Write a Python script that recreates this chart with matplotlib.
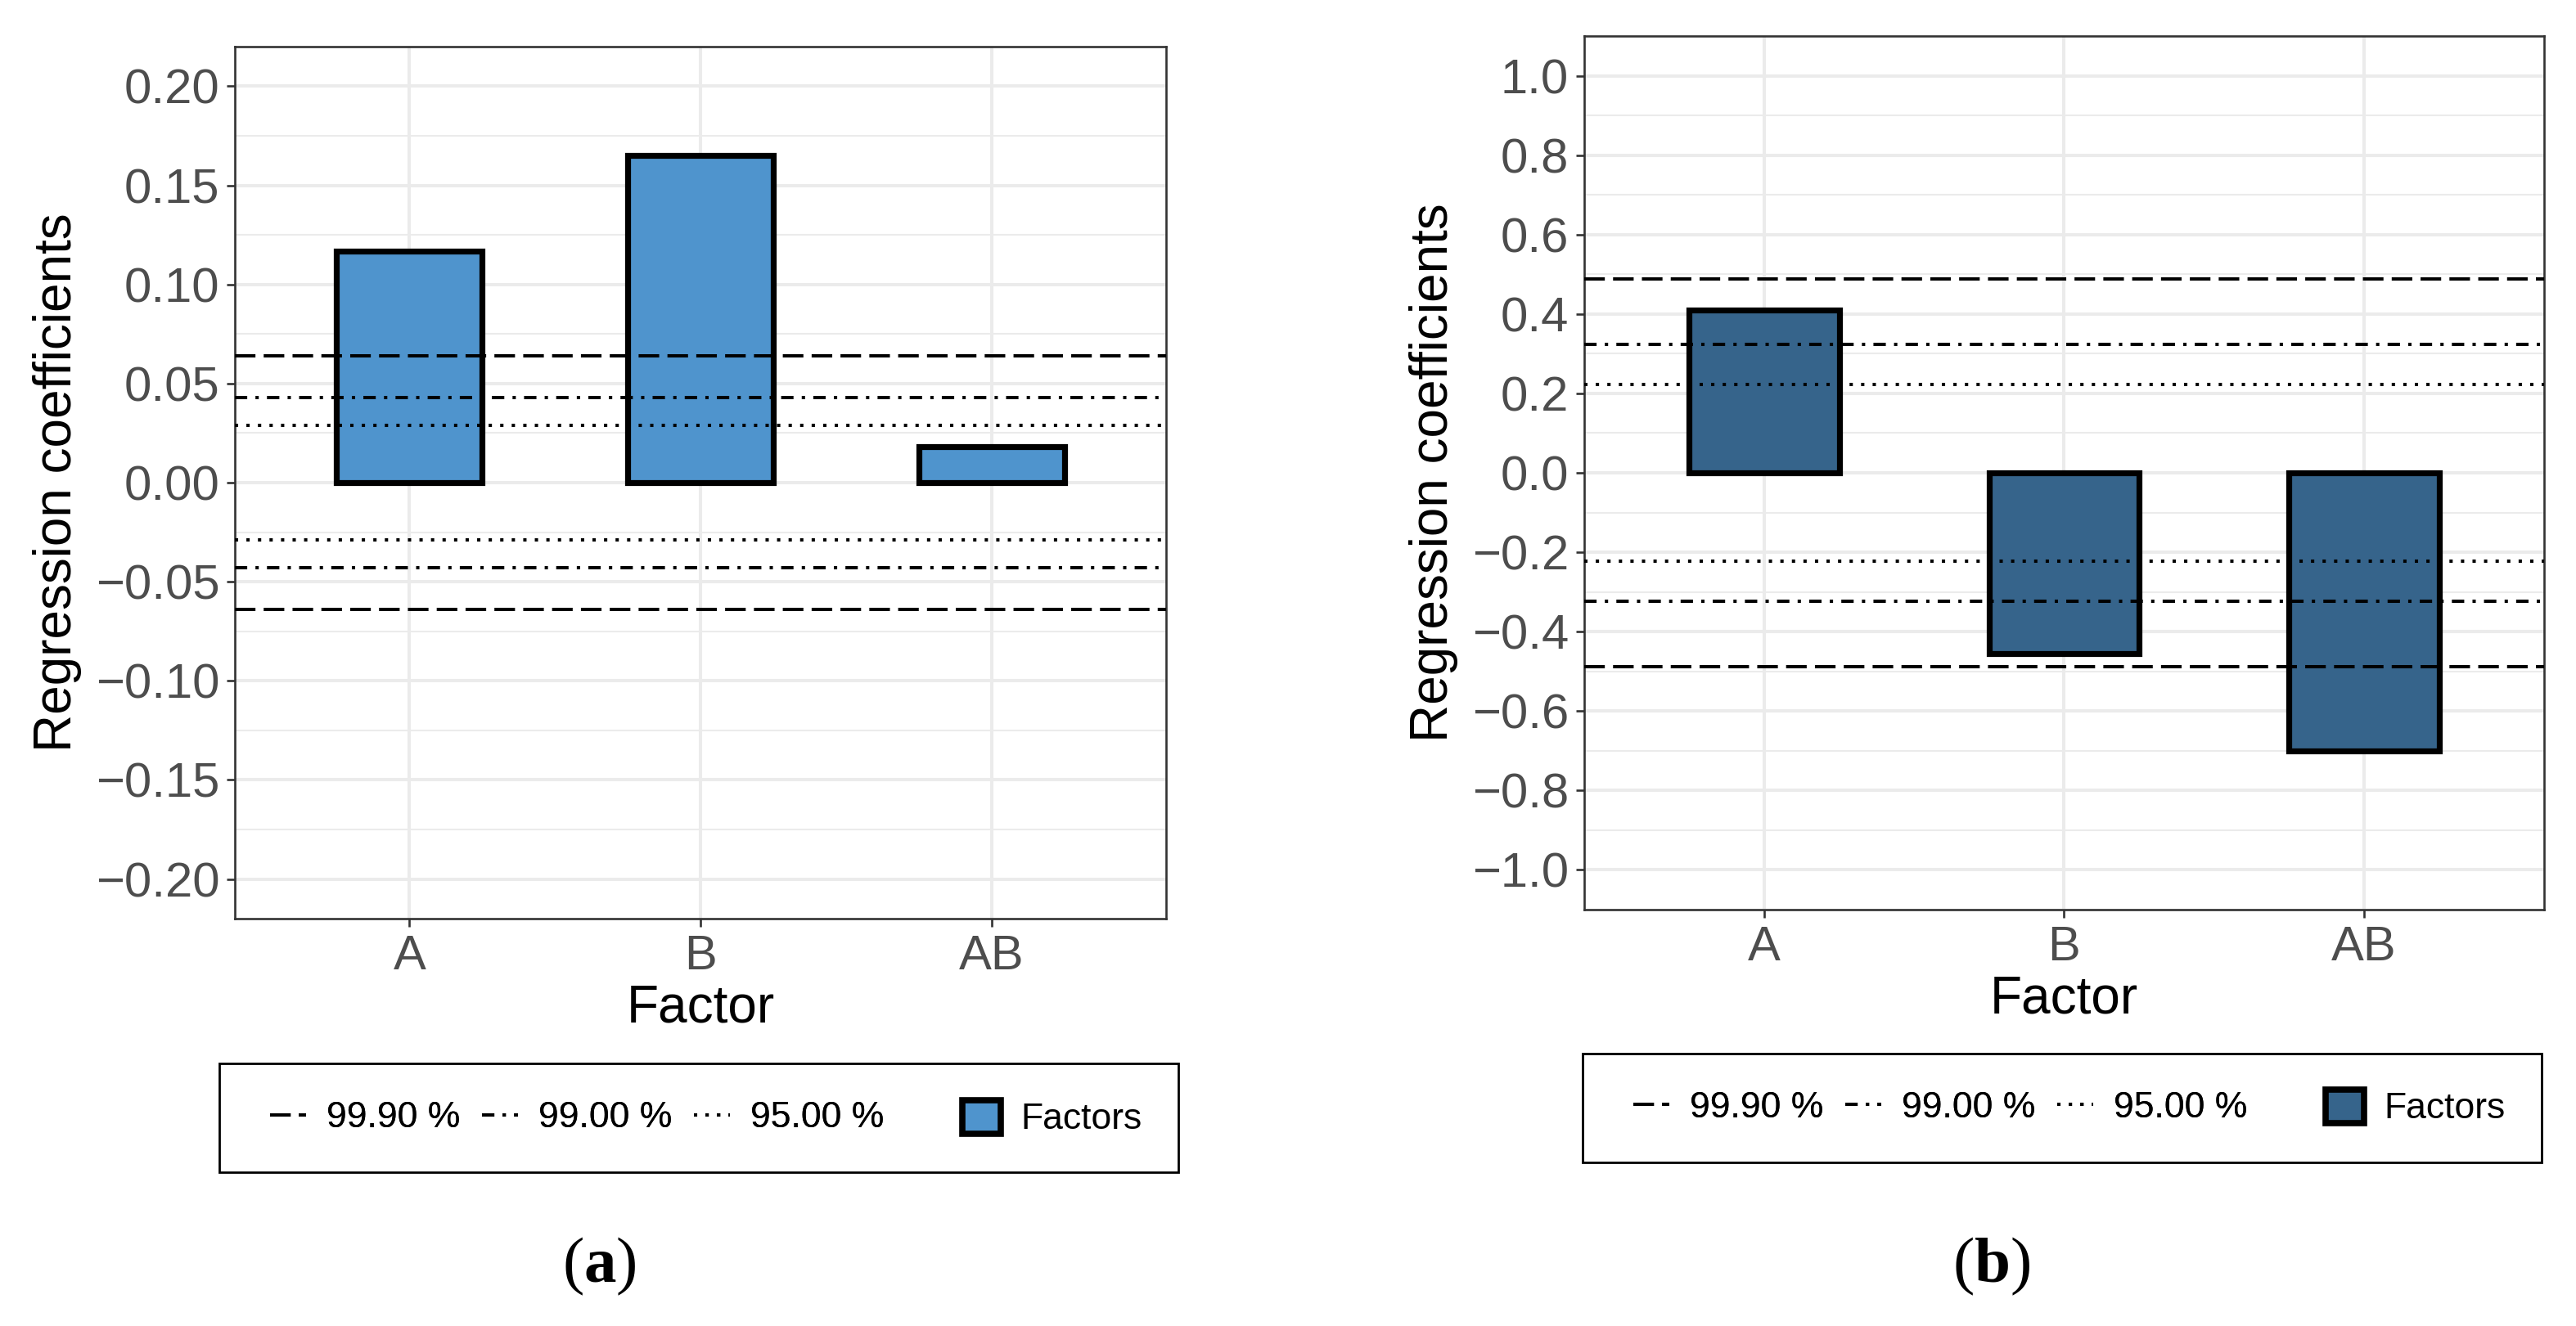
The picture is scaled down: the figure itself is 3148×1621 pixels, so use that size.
import numpy as np
import matplotlib
matplotlib.use("Agg")
import matplotlib.pyplot as plt
from matplotlib.lines import Line2D
from matplotlib.patches import Patch, Rectangle

# ---------------- data ----------------
factors = ["A", "B", "AB"]
coef_a = [0.117, 0.165, 0.018]
coef_b = [0.41, -0.455, -0.70]

levels = ["99.90 %", "99.00 %", "95.00 %"]
limits_a = [0.064, 0.043, 0.029]
limits_b = [0.488, 0.324, 0.223]

ticks_a = [-0.20, -0.15, -0.10, -0.05, 0.00, 0.05, 0.10, 0.15, 0.20]
ticks_b = [-1.0, -0.8, -0.6, -0.4, -0.2, 0.0, 0.2, 0.4, 0.6, 0.8, 1.0]

# ---------------- style ----------------
plt.rcParams['font.family'] = ['Liberation Sans', 'DejaVu Sans']
plt.rcParams['mathtext.fontset'] = 'custom'
plt.rcParams['mathtext.rm'] = 'Liberation Serif'
plt.rcParams['mathtext.bf'] = 'Liberation Serif:bold'

W, H = 3148, 1621
DPI = 100
LINE_LW = 2.9
styles = [(0, (6.25, 2.5)), (0, (3.75, 2.5, 1.0, 2.5)), (0, (1.0, 2.5))]
GRID = "#EBEBEB"
FRAME = "#333333"
TICKTXT = "#4D4D4D"


def px(x, y):
    """full-image pixel -> figure fraction"""
    return x / W, 1 - y / H


def draw_panel(ax, values, limits, ticks, ylim, minor_step, color, fmt):
    x = np.arange(1, len(factors) + 1)
    ax.bar(x, values, width=0.5, color=color, edgecolor="black",
           linewidth=5.2, zorder=3)
    for lim, ls in zip(limits, styles):
        for s in (1, -1):
            ax.axhline(s * lim, color="black", lw=LINE_LW, linestyle=ls,
                       zorder=4)
    ax.set_xticks(x)
    ax.set_xticklabels(factors)
    ax.set_yticks(ticks)
    ax.set_yticklabels([fmt.format(t).replace("-", "\u2212") for t in ticks])
    ax.set_yticks(np.arange(ticks[0] - minor_step, ticks[-1] + 1.5 * minor_step,
                            2 * minor_step), minor=True)
    ax.set_xlim(0.4, len(factors) + 0.6)
    ax.set_ylim(*ylim)
    ax.grid(True, which="major", color=GRID, lw=2.9, zorder=0)
    ax.grid(True, which="minor", axis="y", color=GRID, lw=1.5, zorder=0)
    ax.set_axisbelow(True)
    for sp in ax.spines.values():
        sp.set_color(FRAME)
        sp.set_linewidth(1.9)
    ax.tick_params(which="major", length=7, width=1.9, color=FRAME,
                   labelsize=43, labelcolor=TICKTXT, pad=6.5)
    ax.tick_params(which="minor", length=0)
    ax.set_ylabel("Regression coefficients", fontsize=46, labelpad=12)
    ax.set_xlabel("Factor", fontsize=46, labelpad=4)


def draw_legend(fig, frame, line_x, fill_x, yc, color):
    x0, y0 = px(frame[0], frame[3])
    x1, y1 = px(frame[2], frame[1])
    fig.patches.append(Rectangle((x0, y0), x1 - x0, y1 - y0,
                                 transform=fig.transFigure, fill=False,
                                 edgecolor="black", lw=2.0))
    handles = [Line2D([], [], color="black", lw=LINE_LW, linestyle=ls)
               for ls in styles]
    leg1 = fig.legend(handles, levels, loc="center left",
                      bbox_to_anchor=px(line_x, yc), ncol=3, frameon=False,
                      fontsize=32, handlelength=1.0, handletextpad=0.55,
                      columnspacing=0.6, borderpad=0, borderaxespad=0)
    fig.add_artist(leg1)
    fig.legend([Patch(facecolor=color, edgecolor="black", lw=5.5)],
               ["Factors"], loc="center left", bbox_to_anchor=px(fill_x, yc),
               frameon=False, fontsize=32, handlelength=1.05,
               handleheight=1.05, handletextpad=0.55, borderpad=0,
               borderaxespad=0)


fig = plt.figure(figsize=(W / DPI, H / DPI), dpi=DPI)

ax1 = fig.add_axes([287 / W, 1 - 1123 / H, 1138 / W, 1066 / H])
draw_panel(ax1, coef_a, limits_a, ticks_a, (-0.22, 0.22), 0.025,
           "#4F94CD", "{:.2f}")

ax2 = fig.add_axes([1936 / W, 1 - 1112 / H, 1173 / W, 1068 / H])
draw_panel(ax2, coef_b, limits_b, ticks_b, (-1.1, 1.1), 0.1,
           "#36648B", "{:.1f}")

draw_legend(fig, (268, 1300, 1440, 1433), 330, 1176, 1367, "#4F94CD")
draw_legend(fig, (1934, 1288, 3106, 1421), 1996, 2842, 1354, "#36648B")

fig.text(*px(732, 1548), r"($\mathbf{a}$)", fontsize=57, ha="center",
         va="center", family="Liberation Serif")
fig.text(*px(2434, 1548), r"($\mathbf{b}$)", fontsize=57, ha="center",
         va="center", family="Liberation Serif")

fig.savefig("out.png", dpi=DPI)
